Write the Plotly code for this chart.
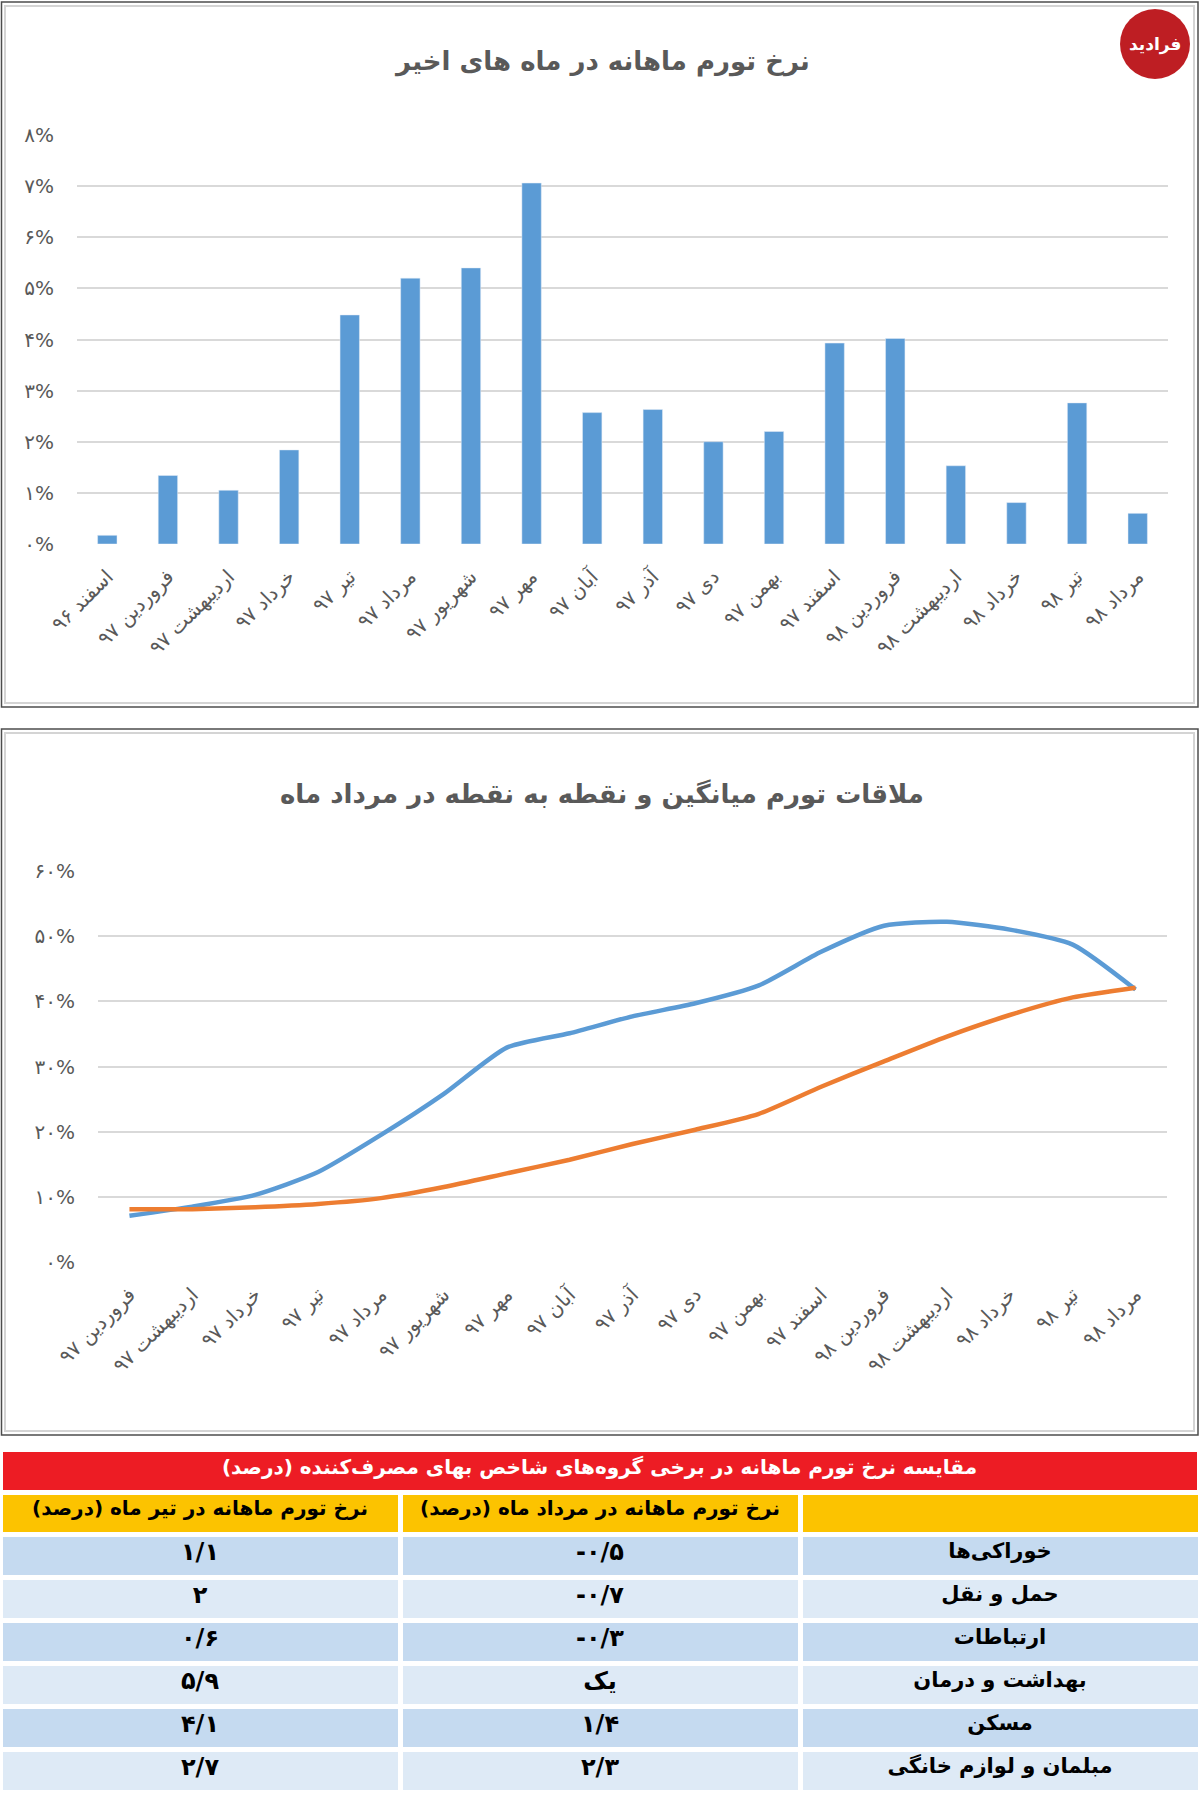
import plotly.graph_objects as go

# dados do grafico 1 - nerkh tavarom mahane
meses_1 = ["اسفند ۹۶", "فروردین ۹۷", "اردیبهشت ۹۷", "خرداد ۹۷", "تیر ۹۷", "مرداد ۹۷",
           "شهریور ۹۷", "مهر ۹۷", "آبان ۹۷", "آذر ۹۷", "دی ۹۷", "بهمن ۹۷",
           "اسفند ۹۷", "فروردین ۹۸", "اردیبهشت ۹۸", "خرداد ۹۸", "تیر ۹۸", "مرداد ۹۸"]
mensal = [0.17, 1.34, 1.05, 1.84, 4.48, 5.2, 5.4, 7.06, 2.57, 2.63, 2.0, 2.2,
          3.93, 4.02, 1.53, 0.81, 2.76, 0.6]
ticks_1 = [0, 1, 2, 3, 4, 5, 6, 7, 8]
ticktext_1 = ["۰%", "۱%", "۲%", "۳%", "۴%", "۵%", "۶%", "۷%", "۸%"]

# dados do grafico 2 - miangin va noghte be noghte
meses_2 = meses_1[1:]
ponto = [7.1, 8.5, 10.3, 13.8, 19.5, 25.8, 32.9, 35.1, 37.7, 39.7, 42.4,
         47.6, 51.6, 52.2, 51.0, 48.7, 41.8]
media = [8.1, 8.1, 8.4, 8.9, 9.8, 11.5, 13.6, 15.7, 18.1, 20.3, 22.7,
         26.9, 30.8, 34.6, 37.9, 40.6, 42.1]
ticks_2 = [0, 10, 20, 30, 40, 50, 60]
ticktext_2 = ["۰%", "۱۰%", "۲۰%", "۳۰%", "۴۰%", "۵۰%", "۶۰%"]

# dados da tabela
titulo_tabela = "مقایسه نرخ تورم ماهانه در برخی گروه‌های شاخص بهای مصرف‌کننده (درصد)"
cabecalho = ["نرخ تورم ماهانه در تیر ماه (درصد)", "نرخ تورم ماهانه در مرداد ماه (درصد)", ""]
grupos = ["خوراکی‌ها", "حمل و نقل", "ارتباطات", "بهداشت و درمان", "مسکن", "مبلمان و لوازم خانگی"]
mordad = ["-۰/۵", "-۰/۷", "-۰/۳", "یک", "۱/۴", "۲/۳"]
tir = ["۱/۱", "۲", "۰/۶", "۵/۹", "۴/۱", "۲/۷"]

W, H = 1200, 1795
FONTE = "DejaVu Sans"
CINZA = "#595959"


def px(x):
    return x / W


def py(y):
    return 1 - y / H


fig = go.Figure()

fig.add_trace(go.Bar(x=meses_1, y=mensal, marker_color="#5B9BD5",
                     xaxis="x", yaxis="y", showlegend=False))

fig.add_trace(go.Scatter(x=meses_2, y=ponto, mode="lines",
                         line=dict(color="#5B9BD5", width=4.5, shape="spline", smoothing=0.6),
                         xaxis="x2", yaxis="y2", showlegend=False))
fig.add_trace(go.Scatter(x=meses_2, y=media, mode="lines",
                         line=dict(color="#ED7D31", width=4.5, shape="spline", smoothing=0.6),
                         xaxis="x2", yaxis="y2", showlegend=False))

# tabela - faixa vermelha
fig.add_trace(go.Table(
    domain=dict(x=[px(2), px(1197)], y=[py(1492), py(1451)]),
    columnwidth=[1],
    header=dict(values=[titulo_tabela], fill_color="#ED1C24", height=39,
                line=dict(color="white", width=1),
                font=dict(family=FONTE, size=20, color="white", weight="bold"), align="center"),
    cells=dict(values=[[]], height=1, line=dict(width=0), fill_color="white"),
))

# tabela - dados
cores_linhas = ["#C5DAF0", "#DEEAF6"] * 3
fig.add_trace(go.Table(
    domain=dict(x=[px(0), px(1200)], y=[0, py(1492)]),
    columnwidth=[1, 1, 1],
    header=dict(values=cabecalho, fill_color="#FCC300", height=42,
                line=dict(color="white", width=5),
                font=dict(family=FONTE, size=20, color="black", weight="bold"), align="center"),
    cells=dict(values=[tir, mordad, grupos], height=43,
               fill_color=[cores_linhas, cores_linhas, cores_linhas],
               line=dict(color="white", width=5),
               font=dict(family=FONTE, size=[24, 24, 21], color="black", weight="bold"),
               align="center"),
))

eixo_x = dict(tickangle=-45, tickfont=dict(family=FONTE, size=20, color=CINZA),
              showgrid=False, showline=False, ticks="", ticklabelstandoff=16, automargin=False)
eixo_y = dict(showgrid=True, gridcolor="#D9D9D9", gridwidth=1.5, zeroline=False,
              showline=False, ticks="", tickfont=dict(family=FONTE, size=20, color=CINZA),
              ticklabelstandoff=22, automargin=False)

fig.update_layout(
    width=W, height=H,
    margin=dict(l=0, r=0, t=0, b=0, pad=0, autoexpand=False),
    paper_bgcolor="white", plot_bgcolor="white",
    bargap=0.68,
    xaxis=dict(eixo_x, domain=[px(77), px(1168)], anchor="y"),
    yaxis=dict(eixo_y, domain=[py(544), py(135)], range=[0, 8], tickvals=ticks_1,
               ticktext=ticktext_1, anchor="x"),
    xaxis2=dict(eixo_x, domain=[px(98), px(1167)], range=[-0.5, 16.5], anchor="y2"),
    yaxis2=dict(eixo_y, domain=[py(1262), py(871)], range=[0, 60], tickvals=ticks_2,
                ticktext=ticktext_2, anchor="x2"),
)

# molduras dos dois paineis
for y0, y1 in [(2, 707), (729, 1435)]:
    fig.add_shape(type="rect", xref="paper", yref="paper", x0=px(1.5), x1=px(1198),
                  y0=py(y1), y1=py(y0), line=dict(color="#4d4d4d", width=1.5), layer="below")
    fig.add_shape(type="rect", xref="paper", yref="paper", x0=px(5), x1=px(1194),
                  y0=py(y1 - 4), y1=py(y0 + 4), line=dict(color="#d4d4d4", width=2), layer="below")

# titulos
fig.add_annotation(text="نرخ تورم ماهانه در ماه های اخیر", x=0.502, y=py(62),
                   xref="paper", yref="paper", showarrow=False,
                   xanchor="center", yanchor="middle",
                   font=dict(family=FONTE, size=26, color=CINZA, weight="bold"))
fig.add_annotation(text="ملاقات تورم میانگین و نقطه به نقطه در مرداد ماه", x=0.502, y=py(794),
                   xref="paper", yref="paper", showarrow=False,
                   xanchor="center", yanchor="middle",
                   font=dict(family=FONTE, size=26, color=CINZA, weight="bold"))

# logo
fig.add_shape(type="circle", xref="paper", yref="paper", x0=px(1120), x1=px(1190),
              y0=py(79), y1=py(9), fillcolor="#BE1E23", line=dict(width=0))
fig.add_annotation(text="فرادید", x=px(1155), y=py(45), xref="paper", yref="paper",
                   showarrow=False, xanchor="center", yanchor="middle",
                   font=dict(family=FONTE, size=17, color="white", weight="bold"))

fig.write_html("out.html", config={"displayModeBar": False},
               post_script="document.body.style.margin = '0';")
